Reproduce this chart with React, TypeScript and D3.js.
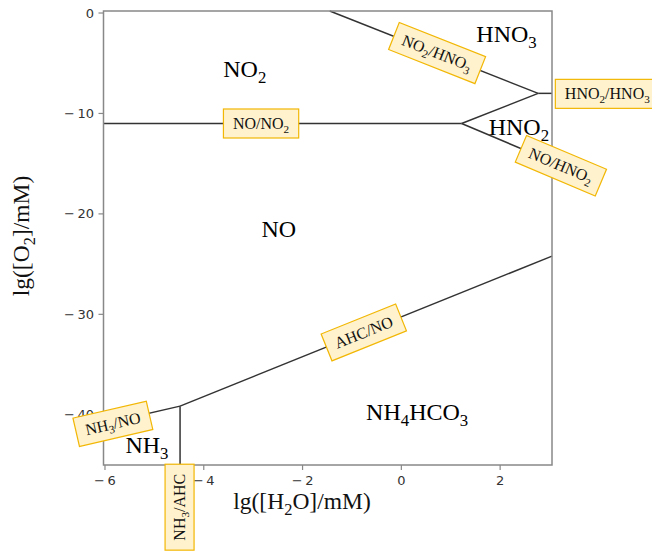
import React, { useEffect, useRef } from "react";
import * as d3 from "d3";

const W = 652;
const H = 552;

// axis extents: lg([H2O]/mM) and lg([O2]/mM)
const xDomain: [number, number] = [-6.03, 3.05];
const yDomain: [number, number] = [-45, 0.2];
const xTicks = [-6, -4, -2, 0, 2];
const yTicks = [-40, -30, -20, -10, 0];

// phase boundaries, points as [lg H2O, lg O2]
const lineNO_NO2: [number, number][] = [[-6.03, -11], [1.22, -11]];
const lineNO2_HNO3: [number, number][] = [[-1.45, 0.2], [2.77, -8]];
const lineNO2_HNO2: [number, number][] = [[1.22, -11], [2.77, -8]];
const lineHNO2_HNO3: [number, number][] = [[2.77, -8], [3.05, -8]];
const lineNO_HNO2: [number, number][] = [[1.22, -11], [3.05, -14.8]];
const lineAHC_NO: [number, number][] = [[-4.48, -39.14], [3.05, -24.2]];
const lineNH3_NO: [number, number][] = [[-6.03, -40.9], [-4.48, -39.14]];
const lineNH3_AHC: [number, number][] = [[-4.48, -39.14], [-4.48, -45]];

const boundaries = [
  lineNO_NO2,
  lineNO2_HNO3,
  lineNO2_HNO2,
  lineHNO2_HNO3,
  lineNO_HNO2,
  lineAHC_NO,
  lineNH3_NO,
  lineNH3_AHC,
];

// stable species in each field (baseline-centred positions)
const regionNames = ["NO2", "HNO3", "HNO2", "NO", "NH4HCO3", "NH3"];
const regionX = [-3.17, 2.13, 2.38, -2.48, 0.32, -5.15];
const regionY = [-6.4, -2.89, -12.15, -22.3, -40.54, -43.8];

// boundary tags: text, centre, and the line whose direction they follow
const tagNames = ["NO2/HNO3", "HNO2/HNO3", "NO/HNO2", "NO/NO2", "AHC/NO", "NH3/NO", "NH3/AHC"];
const tagX = [0.72, 4.17, 3.23, -2.84, -0.76, -5.84, -4.49];
const tagY = [-3.98, -8.05, -15.2, -11, -31.8, -40.9, -49.2];
const tagLine = [1, 3, 4, 0, 5, 6, 7];

const SERIF = "'Liberation Serif', 'Times New Roman', serif";
const SANS = "'DejaVu Sans', Verdana, sans-serif";

type TextSel = d3.Selection<SVGTextElement, unknown, null, undefined>;

// writes a chemical formula with numeric subscripts
function writeFormula(text: TextSel, s: string, size: number) {
  const parts = s.split(/(\d+)/).filter((p) => p.length > 0);
  const off = size * 0.24;
  let shifted = false;
  parts.forEach((p) => {
    const isSub = /^\d+$/.test(p);
    const t = text.append("tspan").text(p);
    if (isSub) {
      t.attr("font-size", size * 0.7).attr("dy", off);
      shifted = true;
    } else if (shifted) {
      t.attr("dy", -off);
      shifted = false;
    }
  });
}

export default function App() {
  const ref = useRef<SVGSVGElement>(null);

  useEffect(() => {
    const svg = d3.select(ref.current!);
    svg.selectAll("*").remove();

    const x = d3.scaleLinear().domain(xDomain).range([103.5, 552]);
    const y = d3.scaleLinear().domain(yDomain).range([465, 11]);

    const line = d3
      .line<[number, number]>()
      .x((d) => x(d[0]))
      .y((d) => y(d[1]));

    // boundaries
    svg
      .append("g")
      .selectAll("path")
      .data(boundaries)
      .join("path")
      .attr("d", (d) => line(d))
      .attr("fill", "none")
      .attr("stroke", "#333")
      .attr("stroke-width", 1.5);

    // frame
    svg
      .append("rect")
      .attr("x", x(xDomain[0]))
      .attr("y", y(yDomain[1]))
      .attr("width", x(xDomain[1]) - x(xDomain[0]))
      .attr("height", y(yDomain[0]) - y(yDomain[1]))
      .attr("fill", "none")
      .attr("stroke", "#888")
      .attr("stroke-width", 1.5);

    const fmt = (v: number) => (v < 0 ? "\u2212\u2009" + Math.abs(v) : String(v));

    // x ticks
    const gx = svg.append("g");
    xTicks.forEach((t) => {
      gx.append("line")
        .attr("x1", x(t))
        .attr("x2", x(t))
        .attr("y1", y(yDomain[0]))
        .attr("y2", y(yDomain[0]) + 5)
        .attr("stroke", "#888")
        .attr("stroke-width", 1.2);
      gx.append("text")
        .attr("x", x(t))
        .attr("y", 485)
        .attr("text-anchor", "middle")
        .attr("font-family", SANS)
        .attr("font-size", 13)
        .attr("fill", "#333")
        .text(fmt(t));
    });

    // y ticks
    const gy = svg.append("g");
    yTicks.forEach((t) => {
      gy.append("line")
        .attr("x1", x(xDomain[0]) - 5)
        .attr("x2", x(xDomain[0]))
        .attr("y1", y(t))
        .attr("y2", y(t))
        .attr("stroke", "#888")
        .attr("stroke-width", 1.2);
      gy.append("text")
        .attr("x", 94)
        .attr("y", y(t) + 4.5)
        .attr("text-anchor", "end")
        .attr("font-family", SANS)
        .attr("font-size", 13)
        .attr("fill", "#333")
        .text(fmt(t));
    });

    // axis titles
    const xt = svg
      .append("text")
      .attr("x", 302)
      .attr("y", 509)
      .attr("text-anchor", "middle")
      .attr("font-family", SERIF)
      .attr("font-size", 23.5)
      .attr("fill", "#111");
    writeFormula(xt, "lg([H2O]/mM)", 23.5);

    const yt = svg
      .append("text")
      .attr("transform", "translate(29,236) rotate(-90)")
      .attr("text-anchor", "middle")
      .attr("font-family", SERIF)
      .attr("font-size", 23.5)
      .attr("fill", "#111");
    writeFormula(yt, "lg([O2]/mM)", 23.5);

    // field names
    regionNames.forEach((name, i) => {
      const t = svg
        .append("text")
        .attr("x", x(regionX[i]))
        .attr("y", y(regionY[i]))
        .attr("text-anchor", "middle")
        .attr("font-family", SERIF)
        .attr("font-size", 24)
        .attr("fill", "#000");
      writeFormula(t, name, 24);
    });

    // boundary tags
    const TAG = 16;
    tagNames.forEach((name, i) => {
      const seg = boundaries[tagLine[i]];
      const dx = x(seg[1][0]) - x(seg[0][0]);
      const dy = y(seg[1][1]) - y(seg[0][1]);
      let ang = (Math.atan2(dy, dx) * 180) / Math.PI;
      if (ang > 90) ang -= 180;
      if (ang <= -90) ang += 180;
      if (Math.abs(ang - 90) < 1e-6) ang = -90;

      const g = svg
        .append("g")
        .attr("transform", `translate(${x(tagX[i])},${y(tagY[i])}) rotate(${ang})`);
      const rect = g.append("rect");
      const t = g
        .append("text")
        .attr("x", 0)
        .attr("y", TAG * 0.33)
        .attr("text-anchor", "middle")
        .attr("font-family", SERIF)
        .attr("font-size", TAG)
        .attr("fill", "#111");
      writeFormula(t, name, TAG);
      const bb = (t.node() as SVGTextElement).getBBox();
      const padX = 9.5;
      rect
        .attr("x", bb.x - padX)
        .attr("y", -14.5)
        .attr("width", bb.width + 2 * padX)
        .attr("height", 29)
        .attr("fill", "#fff2cc")
        .attr("stroke", "#f2b705")
        .attr("stroke-width", 1.2);
    });
  }, []);

  return (
    <svg
      ref={ref}
      width={W}
      height={H}
      style={{ position: "absolute", left: 0, top: 0, background: "#fff" }}
    />
  );
}
